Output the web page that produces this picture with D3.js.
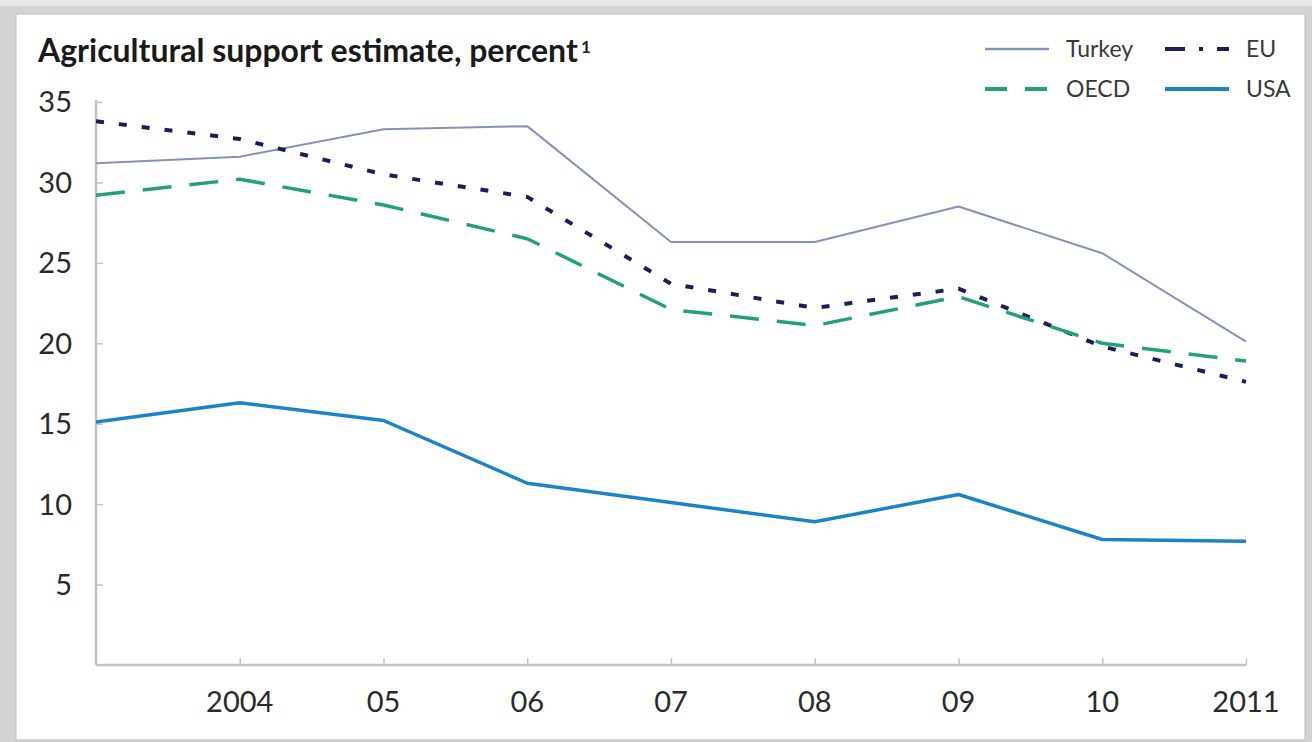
<!DOCTYPE html>
<html>
<head>
<meta charset="utf-8">
<script src="https://cdn.jsdelivr.net/npm/d3@7"></script>
<style>
  body { margin: 0; background: #fff; }
  text { font-family: Lato, "Open Sans", sans-serif; }
</style>
</head>
<body>
<svg id="chart" width="1312" height="742"></svg>
<script>
// years on the x axis, 2003 is the unlabeled start at the y axis
var years = [2003, 2004, 2005, 2006, 2007, 2008, 2009, 2010, 2011];
var yearLabels = ['', '2004', '05', '06', '07', '08', '09', '10', '2011'];
var yTicks = [5, 10, 15, 20, 25, 30, 35];

// series values, percent
var turkey = [31.2, 31.6, 33.3, 33.5, 26.3, 26.3, 28.5, 25.6, 20.1];
var eu     = [33.8, 32.7, 30.5, 29.1, 23.7, 22.2, 23.4, 19.8, 17.6];
var oecd   = [29.2, 30.2, 28.6, 26.5, 22.1, 21.1, 22.9, 20.0, 18.9];
var usa    = [15.1, 16.3, 15.2, 11.3, 10.1, 8.9, 10.6, 7.8, 7.7];

var seriesNames = ['Turkey', 'EU', 'OECD', 'USA'];

var styles = {
    'Turkey': {color: '#8592b8', width: 2, dash: null},
    'EU': {color: '#1f1d57', width: 4, dash: '8,15'},
    'OECD': {color: '#22a175', width: 3.5, dash: '29,18'},
    'USA': {color: '#1a84c7', width: 3.5, dash: null}
};

var series = [
    {name: 'Turkey', values: turkey},
    {name: 'EU', values: eu},
    {name: 'OECD', values: oecd},
    {name: 'USA', values: usa}
];

var svg = d3.select('#chart');
var svgWidth = +svg.attr('width');
var svgHeight = +svg.attr('height');

// frame: grey shadow around a white panel
svg.append('rect')
    .attr('width', svgWidth).attr('height', svgHeight)
    .attr('fill', '#d4d4d4');
svg.append('rect')
    .attr('x', 0).attr('y', 0).attr('width', svgWidth).attr('height', 6)
    .attr('fill', '#e8e8e8');
svg.append('rect')
    .attr('x', 16).attr('y', 14)
    .attr('width', svgWidth - 16 - 7).attr('height', svgHeight - 14 - 2)
    .attr('fill', '#fff')
    .attr('stroke', '#bdbdbd')
    .attr('stroke-width', 1);

var padding = {t: 102, r: 66, b: 77, l: 96};
var chartWidth = svgWidth - padding.l - padding.r;
var chartHeight = svgHeight - padding.t - padding.b;

var xScale = d3.scaleLinear()
    .domain([years[0], years[years.length - 1]])
    .range([0, chartWidth]);

var yScale = d3.scaleLinear()
    .domain([0, 35])
    .range([chartHeight, 0]);

var chartG = svg.append('g')
    .attr('transform', 'translate(' + [padding.l, padding.t] + ')');

// axes
var axisColor = '#c4c4c4';

var yAxis = d3.axisRight(yScale)
    .tickValues(yTicks)
    .tickSize(7)
    .tickFormat('');
var yAxisG = chartG.append('g').call(yAxis);
yAxisG.select('.domain').remove();
yAxisG.selectAll('line').attr('stroke', axisColor).attr('stroke-width', 1.5);

chartG.append('line')
    .attr('x1', 0).attr('x2', 0)
    .attr('y1', yScale(35) - 2).attr('y2', yScale(0))
    .attr('stroke', axisColor).attr('stroke-width', 2.5);

chartG.selectAll('.ylabel')
    .data(yTicks)
    .enter().append('text')
    .attr('class', 'ylabel')
    .attr('x', -24)
    .attr('y', function(d) { return yScale(d); })
    .attr('dy', '0.36em')
    .attr('text-anchor', 'end')
    .attr('font-size', 29)
    .attr('fill', '#2a2a2a')
    .text(function(d) { return d; });

var xAxis = d3.axisTop(xScale)
    .tickValues(years.slice(1))
    .tickSize(7)
    .tickFormat('');
var xAxisG = chartG.append('g')
    .attr('transform', 'translate(0,' + chartHeight + ')')
    .call(xAxis);
xAxisG.select('.domain').remove();
xAxisG.selectAll('line').attr('stroke', axisColor).attr('stroke-width', 1.5);

chartG.append('line')
    .attr('x1', 0).attr('x2', chartWidth)
    .attr('y1', chartHeight).attr('y2', chartHeight)
    .attr('stroke', axisColor).attr('stroke-width', 2.5);

chartG.selectAll('.xlabel')
    .data(years)
    .enter().append('text')
    .attr('class', 'xlabel')
    .attr('x', function(d) { return xScale(d); })
    .attr('y', chartHeight + 47)
    .attr('text-anchor', 'middle')
    .attr('font-size', 29)
    .attr('fill', '#2a2a2a')
    .text(function(d, i) { return yearLabels[i]; });

// lines
var line = d3.line()
    .x(function(d, i) { return xScale(years[i]); })
    .y(function(d) { return yScale(d); });

chartG.selectAll('.series')
    .data(series)
    .enter().append('path')
    .attr('class', 'series')
    .attr('d', function(d) { return line(d.values); })
    .attr('fill', 'none')
    .attr('stroke', function(d) { return styles[d.name].color; })
    .attr('stroke-width', function(d) { return styles[d.name].width; })
    .attr('stroke-dasharray', function(d) { return styles[d.name].dash; })
    .attr('stroke-linejoin', 'round');

// title
var title = svg.append('text')
    .attr('x', 38)
    .attr('y', 62)
    .attr('font-size', 27)
    .attr('font-weight', 'bold')
    .attr('fill', '#1a1a1a')
    .text('Agricultural support estimate, percent');
var titleLen = title.node().getComputedTextLength();
title.attr('font-size', 27 * 540 / titleLen);
svg.append('text')
    .attr('x', 581)
    .attr('y', 53)
    .attr('font-size', 17)
    .attr('font-weight', 'bold')
    .attr('fill', '#1a1a1a')
    .text('1');

// legend
var legendPos = {
    'Turkey': [985, 49],
    'EU': [1165, 49],
    'OECD': [985, 89],
    'USA': [1165, 89]
};
var legendDash = {'EU': '20,14,4,14', 'OECD': '22,18'};

var legendG = svg.append('g');
var items = legendG.selectAll('.legend')
    .data(seriesNames)
    .enter().append('g')
    .attr('class', 'legend')
    .attr('transform', function(d) { return 'translate(' + legendPos[d] + ')'; });

items.append('line')
    .attr('x1', 0).attr('x2', 64)
    .attr('y1', 0).attr('y2', 0)
    .attr('stroke', function(d) { return styles[d].color; })
    .attr('stroke-width', function(d) { return d === 'Turkey' ? 2.5 : 4; })
    .attr('stroke-dasharray', function(d) { return legendDash[d] || null; });

items.append('text')
    .attr('x', 81)
    .attr('dy', '0.36em')
    .attr('font-size', 23)
    .attr('fill', '#3a3a3a')
    .text(function(d) { return d; });
</script>
</body>
</html>
